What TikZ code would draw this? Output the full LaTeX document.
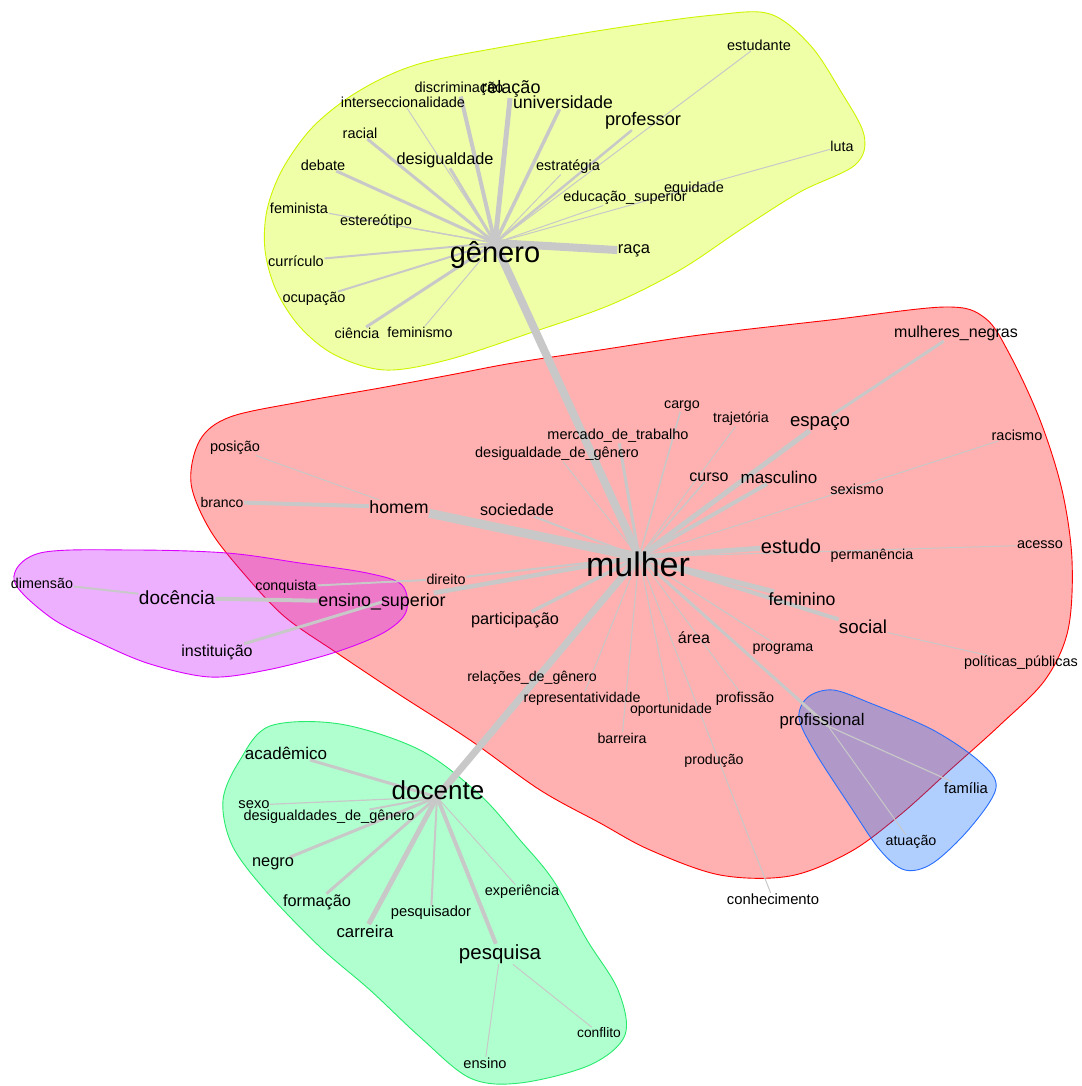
\documentclass[tikz,border=0pt]{standalone}
\usepackage{fontspec}
\setmainfont{Liberation Sans}
\definecolor{eg}{RGB}{200,200,200}
\definecolor{fred}{RGB}{255,0,0}
\definecolor{fyel}{RGB}{211,255,0}
\definecolor{fpur}{RGB}{200,0,255}
\definecolor{fgrn}{RGB}{0,255,103}
\definecolor{fblu}{RGB}{0,103,255}
\definecolor{lyel}{RGB}{205,245,0}
\definecolor{lpur}{RGB}{220,0,255}
\definecolor{lgrn}{RGB}{40,235,110}
\definecolor{lblu}{RGB}{40,110,255}
\pgfdeclarelayer{bg}
\pgfdeclarelayer{mid}
\pgfsetlayers{bg,mid,main}
\tikzset{
  fsz/.style={font=\fontsize{#1}{#1}\selectfont, inner sep=0.5pt, text=black},
  ed/.style={draw=eg, line width=#1},
  hull/.style={line width=0.9pt, fill opacity=#1},
}
\begin{document}
\begin{tikzpicture}[x=1pt,y=-1pt]
\useasboundingbox (0,0) rectangle (1081,1086);
% ---------- labels ----------
% yellow cluster
\node[fsz=29] (gen) at (495,255) {gênero};
\node[fsz=16.5] (raca) at (634,251) {raça};
\node[fsz=14.5] (estudante) at (759,45) {estudante};
\node[fsz=14.3] (luta) at (842,146) {luta};
\node[fsz=14.5] (equidade) at (694,189) {equidade};
\node[fsz=14.5] (edsup) at (625,198) {educação\_superior};
\node[fsz=14.5] (estrat) at (568,167) {estratégia};
\node[fsz=18.2] (professor) at (643,121) {professor};
\node[fsz=17.6] (univ) at (563,102) {universidade};
\node[fsz=14.5] (discr) at (459,89) {discriminação};
\node[fsz=18] (relacao) at (511,89) {relação};
\node[fsz=14.5] (inters) at (403,102) {interseccionalidade};
\node[fsz=14.5] (racial) at (360,133) {racial};
\node[fsz=16.3] (desig) at (445,160) {desigualdade};
\node[fsz=14.5] (debate) at (323,165) {debate};
\node[fsz=14.5] (feminista) at (299,208) {feminista};
\node[fsz=14.5] (estereo) at (376,222) {estereótipo};
\node[fsz=14.5] (curric) at (296,261) {currículo};
\node[fsz=14.5] (ocup) at (314,299) {ocupação};
\node[fsz=14.3] (ciencia) at (357,333) {ciência};
\node[fsz=14.3] (feminismo) at (420,332) {feminismo};
% red cluster
\node[fsz=34] (mulher) at (638,564) {mulher};
\node[fsz=16] (mulneg) at (956,333) {mulheres\_negras};
\node[fsz=14.3] (cargo) at (682,406) {cargo};
\node[fsz=14.3] (trajet) at (741,419) {trajetória};
\node[fsz=18.6] (espaco) at (820,423) {espaço};
\node[fsz=14.5] (mercado) at (618,436) {mercado\_de\_trabalho};
\node[fsz=14.5] (desiggen) at (557,454) {desigualdade\_de\_gênero};
\node[fsz=14.5] (racismo) at (1017,435) {racismo};
\node[fsz=16] (curso) at (709,477) {curso};
\node[fsz=17] (masculino) at (779,477) {masculino};
\node[fsz=14.5] (sexismo) at (857,489) {sexismo};
\node[fsz=14.5] (posicao) at (235,448) {posição};
\node[fsz=14] (branco) at (222,502) {branco};
\node[fsz=17.7] (homem) at (399,507) {homem};
\node[fsz=16.2] (sociedade) at (517,510) {sociedade};
\node[fsz=20] (estudo) at (791,546) {estudo};
\node[fsz=14.3] (permanencia) at (872,556) {permanência};
\node[fsz=14.5] (acesso) at (1040,545) {acesso};
\node[fsz=14.3] (direito) at (446,579) {direito};
\node[fsz=16.3] (participacao) at (515,620) {participação};
\node[fsz=16] (area) at (694,638) {área};
\node[fsz=14.2] (programa) at (783,649) {programa};
\node[fsz=17.7] (feminino) at (802,599) {feminino};
\node[fsz=18.8] (social) at (863,627) {social};
\node[fsz=14.4] (politicas) at (1021,663) {políticas\_públicas};
\node[fsz=14.2] (relgen) at (532,678) {relações\_de\_gênero};
\node[fsz=14.2] (repres) at (582,699) {representatividade};
\node[fsz=14] (oportun) at (671,710) {oportunidade};
\node[fsz=14.3] (profissao) at (745,699) {profissão};
\node[fsz=14.2] (barreira) at (622,738) {barreira};
\node[fsz=14.2] (producao) at (714,761) {produção};
\node[fsz=16.8] (profissional) at (822,721) {profissional};
\node[fsz=14.8] (conhec) at (773,899) {conhecimento};
% blue cluster
\node[fsz=14.8] (familia) at (966,788) {família};
\node[fsz=14.3] (atuacao) at (911,842) {atuação};
% purple cluster
\node[fsz=14.3] (dimensao) at (42,583) {dimensão};
\node[fsz=19] (docencia) at (177,598) {docência};
\node[fsz=14.3] (conquista) at (286,587) {conquista};
\node[fsz=17.9] (ensino) at (382,602) {ensino\_superior};
\node[fsz=16] (instituicao) at (217,652) {instituição};
% green cluster
\node[fsz=26] (docente) at (438,790) {docente};
\node[fsz=17] (acad) at (286,753) {acadêmico};
\node[fsz=14.7] (sexo) at (254,805) {sexo};
\node[fsz=14.5] (desigs) at (329,817) {desigualdades\_de\_gênero};
\node[fsz=16.4] (negro) at (273,864) {negro};
\node[fsz=16.3] (formacao) at (317,902) {formação};
\node[fsz=16.8] (carreira) at (365,931) {carreira};
\node[fsz=14.7] (pesquisador) at (431,913) {pesquisador};
\node[fsz=14.5] (experiencia) at (522,892) {experiência};
\node[fsz=20.5] (pesquisa) at (500,954) {pesquisa};
\node[fsz=13.8] (conflito) at (599,1033) {conflito};
\node[fsz=14.6] (ensinog) at (485,1063) {ensino};
% hub points
\coordinate (hgen) at (495,243);
\coordinate (hmul) at (639,557);
\coordinate (hdoc) at (437,797);
\coordinate (hprof) at (828,726);
% ---------- hulls ----------
\begin{pgfonlayer}{bg}
\fill[white] (0,0) rectangle (1081,1086);
\draw[hull=0.31, draw=fred, fill=fred] plot[smooth cycle, tension=0.55] coordinates {
 (230,417) (300,402) (380,388) (450,375) (513,363) (600,350) (700,335) (830,320) (945,307) (985,318) (1010,355) (1040,420) (1062,490) (1072,560) (1068,630) (1045,680) (1000,725) (950,770) (900,815) (850,852) (790,876) (720,875) (650,850) (600,823) (540,790) (470,740) (400,695) (337,653) (285,617) (245,575) (210,530) (191,483) (200,440)};
\draw[hull=0.34, draw=lyel, fill=fyel] plot[smooth cycle, tension=0.55] coordinates {
 (426,62) (497,48) (616,28) (714,15) (770,14) (810,45) (840,90) (864,135) (855,165) (800,192) (740,230) (680,270) (610,305) (530,333) (447,360) (385,370) (335,355) (300,327) (276,290) (265,250) (267,210) (282,170) (310,130) (345,100) (385,77)};
\draw[hull=0.31, draw=lpur, fill=fpur] plot[smooth cycle, tension=0.55] coordinates {
 (14,580) (40,553) (133,550) (227,553) (300,563) (367,573) (402,585) (406,612) (383,633) (333,653) (267,670) (210,677) (150,664) (100,643) (50,617)};
\draw[hull=0.31, draw=lgrn, fill=fgrn] plot[smooth cycle, tension=0.55] coordinates {
 (270,726) (340,724) (420,750) (480,795) (520,840) (553,880) (587,940) (618,990) (625,1035) (590,1065) (520,1083) (470,1078) (420,1037) (370,990) (320,947) (265,890) (232,845) (223,800) (240,760)};
\draw[hull=0.31, draw=lblu, fill=fblu] plot[smooth cycle, tension=0.55] coordinates {
 (833,690) (870,703) (933,730) (980,762) (996,788) (970,828) (933,863) (905,870) (880,850) (850,806) (815,752) (799,718) (808,697)};
\end{pgfonlayer}
% ---------- edges ----------
\begin{pgfonlayer}{mid}
% genero
\draw[ed=8] (hmul) -- (hgen);
\draw[ed=8] (hgen) -- (raca);
\draw[ed=5] (hgen) -- (relacao);
\draw[ed=4] (hgen) -- (discr);
\draw[ed=3.5] (hgen) -- (univ);
\draw[ed=3] (hgen) -- (desig);
\draw[ed=3] (hgen) -- (racial);
\draw[ed=3] (hgen) -- (debate);
\draw[ed=3] (hgen) -- (ciencia);
\draw[ed=2.5] (hgen) -- (professor);
\draw[ed=2] (hgen) -- (ocup);
\draw[ed=2] (hgen) -- (curric);
\draw[ed=1.2] (hgen) -- (feminista);
\draw[ed=1.2] (hgen) -- (estereo);
\draw[ed=1] (hgen) -- (inters);
\draw[ed=1] (hgen) -- (estrat);
\draw[ed=1] (hgen) -- (edsup);
\draw[ed=1] (hgen) -- (luta);
\draw[ed=1] (hgen) -- (feminismo);
\draw[ed=1] (hgen) -- (estudante);
% mulher
\draw[ed=9] (hmul) -- (homem);
\draw[ed=4.5] (hmul) -- (ensino);
\draw[ed=7] (hmul) -- (hdoc);
\draw[ed=5] (hmul) -- (estudo);
\draw[ed=5] (hmul) -- (feminino);
\draw[ed=4] (hmul) -- (social);
\draw[ed=5] (hmul) -- (espaco);
\draw[ed=4] (hmul) -- (masculino);
\draw[ed=3] (hmul) -- (mercado);
\draw[ed=3.5] (hmul) -- (participacao);
\draw[ed=3] (hmul) -- (hprof);
\draw[ed=2] (hmul) -- (direito);
\draw[ed=2] (hmul) -- (sociedade);
\draw[ed=1.5] (hmul) -- (cargo);
\draw[ed=1.5] (hmul) -- (curso);
\draw[ed=1] (hmul) -- (trajet);
\draw[ed=1] (hmul) -- (desiggen);
\draw[ed=1] (hmul) -- (racismo);
\draw[ed=1] (hmul) -- (acesso);
\draw[ed=1.2] (hmul) -- (programa);
\draw[ed=1] (hmul) -- (profissao);
\draw[ed=1] (hmul) -- (oportun);
\draw[ed=1] (hmul) -- (barreira);
\draw[ed=1] (hmul) -- (repres);
\draw[ed=1] (hmul) -- (conhec);
% secondary
\draw[ed=4] (homem) -- (branco);
\draw[ed=1] (homem) -- (posicao);
\draw[ed=3] (espaco) -- (mulneg);
\draw[ed=1] (social) -- (politicas);
\draw[ed=2] (direito) -- (conquista);
\draw[ed=4] (ensino) -- (docencia);
\draw[ed=2] (docencia) -- (dimensao);
\draw[ed=3] (ensino.center) -- (instituicao);
\draw[ed=1.2] (hprof) -- (familia);
\draw[ed=1] (hprof) -- (atuacao);
% docente
\draw[ed=3] (hdoc) -- (acad);
\draw[ed=1.2] (hdoc) -- (sexo);
\draw[ed=2] (hdoc) -- (desigs);
\draw[ed=3] (hdoc) -- (negro);
\draw[ed=3] (hdoc) -- (formacao);
\draw[ed=5] (hdoc) -- (carreira);
\draw[ed=2] (hdoc) -- (pesquisador);
\draw[ed=4] (hdoc) -- (pesquisa);
\draw[ed=1] (hdoc) -- (experiencia);
\draw[ed=1] (pesquisa) -- (conflito);
\draw[ed=1] (pesquisa) -- (ensinog);
\end{pgfonlayer}
\end{tikzpicture}
\end{document}
